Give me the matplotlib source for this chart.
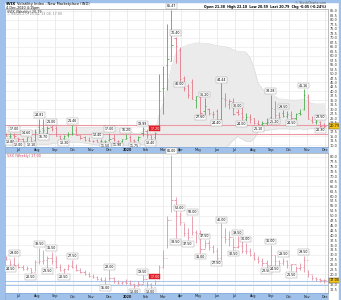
import matplotlib
matplotlib.use('Agg')
import matplotlib.pyplot as plt
import matplotlib.dates as mdates
import numpy as np
import pandas as pd

# weekly bars, Jun 2019 - Nov 2020
weeks = pd.date_range('2019-06-10', periods=78, freq='W-MON')

vix_open = [16.3, 15.4, 15.6, 14.2, 13.6, 12.5, 14.4, 12.8, 20.0, 19.5, 16.7, 20.0, 19.5,
            15.0, 13.9, 15.7, 16.1, 18.6, 15.7, 14.5, 13.1, 12.5, 12.9, 12.3, 12.4, 13.0,
            14.0, 12.6, 12.4, 13.4, 14.5, 12.7, 12.9, 17.0, 17.9, 15.8, 14.5, 21.0, 42.0,
            55.0, 57.0, 70.0, 63.0, 47.7, 43.0, 45.0, 35.0, 37.0, 29.0, 30.0, 27.5, 29.0,
            24.5, 36.0, 33.0, 34.0, 28.5, 28.0, 24.5, 25.5, 25.0, 22.4, 21.8, 22.5, 26.0,
            30.0, 27.0, 28.0, 26.5, 27.0, 25.0, 28.0, 30.0, 37.0, 24.0, 23.0, 23.0, 21.0]
vix_high = [17.0, 16.6, 17.0, 14.8, 14.2, 14.6, 14.5, 19.0, 24.81, 24.5, 20.9, 21.0, 20.5,
            15.6, 15.6, 17.4, 21.46, 20.5, 15.9, 15.0, 14.5, 13.1, 13.4, 13.3, 12.8, 17.0,
            16.3, 13.0, 13.4, 16.2, 15.5, 13.2, 15.0, 19.99, 19.0, 15.9, 17.2, 49.48, 54.4,
            77.57, 85.47, 70.4, 64.6, 48.8, 43.9, 47.0, 37.2, 38.2, 36.2, 31.0, 29.0, 30.0,
            44.44, 39.4, 35.8, 36.3, 30.0, 32.2, 28.0, 27.2, 25.0, 24.0, 23.5, 25.0, 38.28,
            34.5, 28.5, 29.5, 29.0, 29.0, 28.0, 30.0, 41.16, 38.5, 26.5, 24.5, 23.5, 22.5]
vix_low = [14.9, 13.8, 14.3, 12.0, 12.0, 12.2, 12.1, 12.4, 16.0, 16.7, 15.5, 17.7, 14.9,
           13.6, 13.3, 14.4, 15.6, 15.6, 13.4, 12.6, 12.3, 11.8, 11.9, 11.9, 11.5, 12.6,
           12.3, 11.9, 11.9, 13.2, 12.3, 11.75, 12.1, 14.9, 14.1, 13.4, 13.4, 20.0, 27.6,
           40.8, 57.0, 56.0, 46.0, 40.3, 36.3, 35.8, 30.5, 27.6, 26.5, 27.0, 25.0, 24.4,
           24.3, 31.1, 30.0, 26.9, 26.7, 24.0, 23.2, 22.5, 21.6, 21.1, 20.0, 21.0, 21.9,
           25.2, 25.2, 25.8, 25.2, 24.5, 24.0, 27.0, 29.8, 24.7, 22.4, 21.6, 20.3, 19.5]
vix_close = [15.28, 15.40, 15.08, 13.28, 12.39, 14.45, 12.16, 17.61, 17.97, 18.47, 19.87,
             18.98, 15.00, 13.74, 15.32, 16.24, 17.04, 15.58, 14.25, 12.65, 12.30, 12.07,
             12.05, 12.34, 12.62, 13.62, 12.63, 12.51, 13.43, 14.02, 12.56, 12.10, 14.56,
             18.84, 15.47, 13.68, 17.08, 40.11, 41.94, 57.83, 66.04, 65.54, 46.80, 41.67,
             38.15, 35.93, 37.19, 27.98, 31.89, 28.16, 27.51, 24.52, 36.09, 35.12, 34.73,
             27.68, 27.29, 25.68, 25.84, 24.46, 22.21, 22.05, 22.54, 22.96, 30.75, 26.87,
             25.83, 26.38, 27.63, 25.00, 27.41, 27.55, 38.02, 24.86, 23.10, 23.70, 20.84, 20.79]
# closes of the 19 weeks before the window (needed for the 20-week bands)
vix_prior_close = [16.14, 15.72, 14.91, 13.51, 14.63, 16.05, 12.88, 16.48, 13.71, 12.82,
                   12.01, 12.09, 12.73, 12.87, 16.04, 15.96, 15.85, 18.71, 16.30]

vxx_high = [29.5, 27.5, 29.0, 26.0, 25.0, 24.5, 23.5, 27.5, 33.5, 32.5, 29.5, 31.5, 29.5,
            25.5, 23.5, 25.5, 27.5, 25.5, 23.5, 22.0, 21.0, 20.0, 19.0, 18.5, 18.5, 22.0,
            18.5, 17.0, 16.5, 17.5, 17.0, 15.5, 16.5, 19.5, 16.5, 15.5, 17.0, 25.0, 32.5,
            50.0, 81.0, 59.5, 52.0, 46.0, 43.5, 50.0, 42.5, 42.5, 37.5, 37.5, 35.0, 33.5,
            46.0, 43.5, 42.0, 38.5, 39.5, 37.5, 36.0, 33.5, 31.5, 29.5, 28.5, 27.5, 35.0,
            30.0, 27.5, 28.5, 27.5, 25.5, 24.5, 26.0, 29.5, 22.0, 19.5, 18.5, 18.0, 17.5]
vxx_low = [27.5, 24.5, 24.5, 23.5, 22.5, 22.0, 20.5, 21.5, 25.5, 25.5, 23.5, 25.5, 23.5,
           21.5, 20.5, 22.5, 23.5, 21.5, 20.5, 19.5, 18.5, 18.0, 17.0, 16.5, 15.0, 17.0,
           15.5, 15.0, 15.0, 15.0, 14.5, 13.0, 14.0, 15.5, 13.5, 13.0, 14.5, 17.5, 23.5,
           33.5, 52.0, 38.5, 45.0, 39.5, 37.5, 40.0, 36.0, 31.0, 33.5, 32.5, 31.0, 27.5,
           27.5, 36.0, 34.5, 32.5, 33.5, 31.0, 30.5, 29.5, 27.5, 26.0, 24.5, 23.5, 23.5,
           24.5, 22.5, 25.0, 23.5, 21.5, 20.5, 22.5, 21.0, 18.5, 17.0, 16.5, 16.0, 15.5]
vxx_close = [28.0, 25.5, 25.0, 24.0, 23.0, 23.5, 21.0, 26.5, 27.0, 27.5, 28.5, 27.0, 24.0,
             22.0, 23.0, 24.5, 24.0, 22.5, 21.0, 20.0, 19.0, 18.5, 17.5, 17.0, 16.5, 18.0,
             16.5, 15.5, 16.0, 15.5, 15.0, 14.0, 15.0, 17.5, 15.0, 13.5, 16.5, 24.0, 28.5,
             48.0, 58.0, 50.0, 47.0, 41.0, 39.0, 41.5, 41.0, 33.0, 36.0, 34.0, 32.0, 28.5,
             39.0, 38.0, 39.0, 34.0, 34.5, 32.0, 32.0, 30.0, 28.0, 27.0, 26.0, 25.0, 30.0,
             27.0, 26.0, 27.0, 25.0, 25.5, 23.5, 24.0, 27.5, 20.0, 18.0, 17.5, 17.0, 17.0]
vxx_open = [29.0] + vxx_close[:-1]

# swing labels (week index)
vix_hi_lab = [2, 5, 8, 11, 16, 22, 25, 29, 33, 40, 41, 48, 52, 56, 64, 67, 72, 76]
vix_lo_lab = [1, 3, 6, 9, 14, 24, 27, 31, 35, 42, 47, 51, 57, 61, 65, 69, 76]
vxx_hi_lab = [2, 8, 11, 16, 25, 33, 40, 42, 45, 48, 52, 56, 58, 64, 67, 72]
vxx_lo_lab = [1, 6, 10, 14, 24, 31, 35, 41, 44, 47, 51, 55, 63, 65, 69]
red_lab = 36

vix_lines = [21.5, 16.4]
vxx_lines = [16.5, 14.5]

BLUE = '#9fc1ea'
GREEN = '#4caf50'
RED = '#e2788a'
PINK = '#e493a3'

x = mdates.date2num(weeks)
tick = 2.0
months = pd.date_range('2019-07-01', '2020-12-01', freq='MS')
xlim = (x[0] - 1.8, x[-1] + 6)

fig = plt.figure(figsize=(3.41, 3.0), dpi=100)
fig.patch.set_facecolor('white')
# blue frame
fig.add_artist(plt.Rectangle((0, 0), 4 / 341, 1, color=BLUE, transform=fig.transFigure))
fig.add_artist(plt.Rectangle((0, 1 - 1.5 / 300), 1, 1.5 / 300, color=BLUE, transform=fig.transFigure))
fig.add_artist(plt.Rectangle((1 - 2 / 341, 0), 2 / 341, 1, color=BLUE, transform=fig.transFigure))

fig.text(6 / 341, 1 - 4 / 300, '$VIX', fontsize=2.8, fontweight='bold', va='center')
fig.text(17 / 341, 1 - 4 / 300, 'Volatility Index - New Marketplace (IND)', fontsize=2.6, va='center')
fig.text(6 / 341, 1 - 7.5 / 300, '4-Dec-2020 4:15pm', fontsize=2.4, va='center')
fig.text(326 / 341, 1 - 3.5 / 300, '© StockCharts.com', fontsize=2.3, va='center', ha='right', color='#555')
fig.text(326 / 341, 1 - 7 / 300,
         'Open 21.38  High 22.18  Low 20.59  Last 20.79  Chg -0.05 (-0.24%)',
         fontsize=2.3, va='center', ha='right', fontweight='bold')


def panel(rect, o, h, l, c, colors, ylim, step, hi_lab, lo_lab, hlines, hcolor):
    ax = fig.add_axes(rect)
    ax.set_xlim(xlim)
    ax.set_ylim(ylim)
    for m in months:
        ax.axvline(mdates.date2num(m), color='#e4e4e4', lw=0.5, zorder=0)
    for v in np.arange(ylim[0] - ylim[0] % 5 + 5, ylim[1], 5):
        ax.axhline(v, color='#ececec', lw=0.5, zorder=0)
    for v in hlines:
        ax.axhline(v, color=hcolor, lw=0.8, zorder=1)
    ax.vlines(x, l, h, colors=colors, lw=0.6, zorder=3)
    ax.hlines(o, x - tick, x, colors=colors, lw=0.6, zorder=3)
    ax.hlines(c, x, x + tick, colors=colors, lw=0.6, zorder=3)
    box = dict(boxstyle='square,pad=0.25', fc='white', ec='#999999', lw=0.3)
    for i in hi_lab:
        ax.annotate('%.2f' % h[i], (x[i], h[i]), xytext=(0, 1.2), textcoords='offset points',
                    ha='center', va='bottom', fontsize=2.3, bbox=box, zorder=5)
    for i in lo_lab:
        ax.annotate('%.2f' % l[i], (x[i], l[i]), xytext=(0, -1.2), textcoords='offset points',
                    ha='center', va='top', fontsize=2.3, bbox=box, zorder=5)
    ax.annotate('%.2f' % h[red_lab], (x[red_lab], h[red_lab]), xytext=(0, 1.2),
                textcoords='offset points', ha='center', va='bottom', fontsize=2.3,
                color='white', bbox=dict(boxstyle='square,pad=0.25', fc='#e0202a', ec='#e0202a', lw=0.3),
                zorder=6)
    ax.yaxis.tick_right()
    ticks = np.arange(ylim[0] - ylim[0] % 2.5 + 2.5, ylim[1], step)
    # the last-value box covers the tick labels next to it
    ticks = [t for t in ticks if abs(t - c[-1]) > 1.6]
    ax.set_yticks(ticks)
    ax.yaxis.set_major_formatter(matplotlib.ticker.FormatStrFormatter('%.1f'))
    ax.tick_params(axis='y', labelsize=2.5, length=0, pad=1.5, labelcolor='#333')
    ax.set_xticks([])
    for s in ax.spines.values():
        s.set_color('#a0a0a0')
        s.set_linewidth(0.5)
    ax.annotate('%.2f' % c[-1], (1.0, c[-1]), xycoords=('axes fraction', 'data'),
                xytext=(1.5, 0), textcoords='offset points', ha='left', va='center',
                fontsize=2.5, bbox=dict(boxstyle='square,pad=0.2', fc='#f5c518', ec='#333', lw=0.3),
                zorder=7, annotation_clip=False)
    return ax


def date_strip(rect):
    ax = fig.add_axes(rect)
    ax.set_facecolor(BLUE)
    ax.set_xlim(xlim)
    ax.set_ylim(0, 1)
    ax.set_xticks([])
    ax.set_yticks([])
    for s in ax.spines.values():
        s.set_color('#7ea4d6')
        s.set_linewidth(0.4)
    for m in months:
        lab = '2020' if m.month == 1 else m.strftime('%b')
        ax.text(mdates.date2num(m), 0.5, lab, fontsize=2.4, ha='center', va='center',
                fontweight='bold' if m.month == 1 else 'normal', color='#1a1a1a')
    return ax


# top panel: VIX with Bollinger Bands
vix_colors = []
prev = vix_prior_close[-1]
for cc in vix_close:
    vix_colors.append(GREEN if cc >= prev else RED)
    prev = cc

ax1 = panel([5 / 341, 1 - 147 / 300, 323 / 341, 138 / 300], vix_open, vix_high, vix_low,
            vix_close, vix_colors, (9.0, 86.0), 2.5, vix_hi_lab, vix_lo_lab, vix_lines,
            '#eb9aa4')
allc = pd.Series(vix_prior_close + vix_close)
mid = allc.rolling(20).mean()
sd = allc.rolling(20).std(ddof=0)
upper = (mid + 2 * sd).values[len(vix_prior_close):]
lower = (mid - 2 * sd).values[len(vix_prior_close):]
ax1.fill_between(x, lower, upper, color='#ebebeb', lw=0, zorder=0.5)
ax1.plot(x, upper, color='#d6d6d6', lw=0.4, zorder=0.6)
ax1.plot(x, lower, color='#d6d6d6', lw=0.4, zorder=0.6)
ax1.text(0.005, 0.995, '$VIX (Weekly) %.2f' % vix_close[-1], transform=ax1.transAxes,
         fontsize=2.4, va='top', ha='left', color='#222')
ax1.text(0.005, 0.975, '— BB(20,2.0) %.2f, %.2f, %.2f' % (mid.values[-1], upper[-1], lower[-1]),
         transform=ax1.transAxes, fontsize=2.3, va='top', ha='left', color='#888')

date_strip([5 / 341, 1 - 153 / 300, 323 / 341, 6 / 300])

# bottom panel: VXX
ax2 = panel([5 / 341, 1 - 293 / 300, 323 / 341, 140 / 300], vxx_open, vxx_high, vxx_low,
            vxx_close, PINK, (10.5, 82.0), 2.5, vxx_hi_lab, vxx_lo_lab, vxx_lines,
            '#a9c9ec')
ax2.text(0.005, 0.995, 'VXX (Weekly) %.2f' % vxx_close[-1], transform=ax2.transAxes,
         fontsize=2.4, va='top', ha='left', color='#d04060')

date_strip([5 / 341, 0, 323 / 341, 7 / 300])

fig.savefig('out.png', dpi=100)
